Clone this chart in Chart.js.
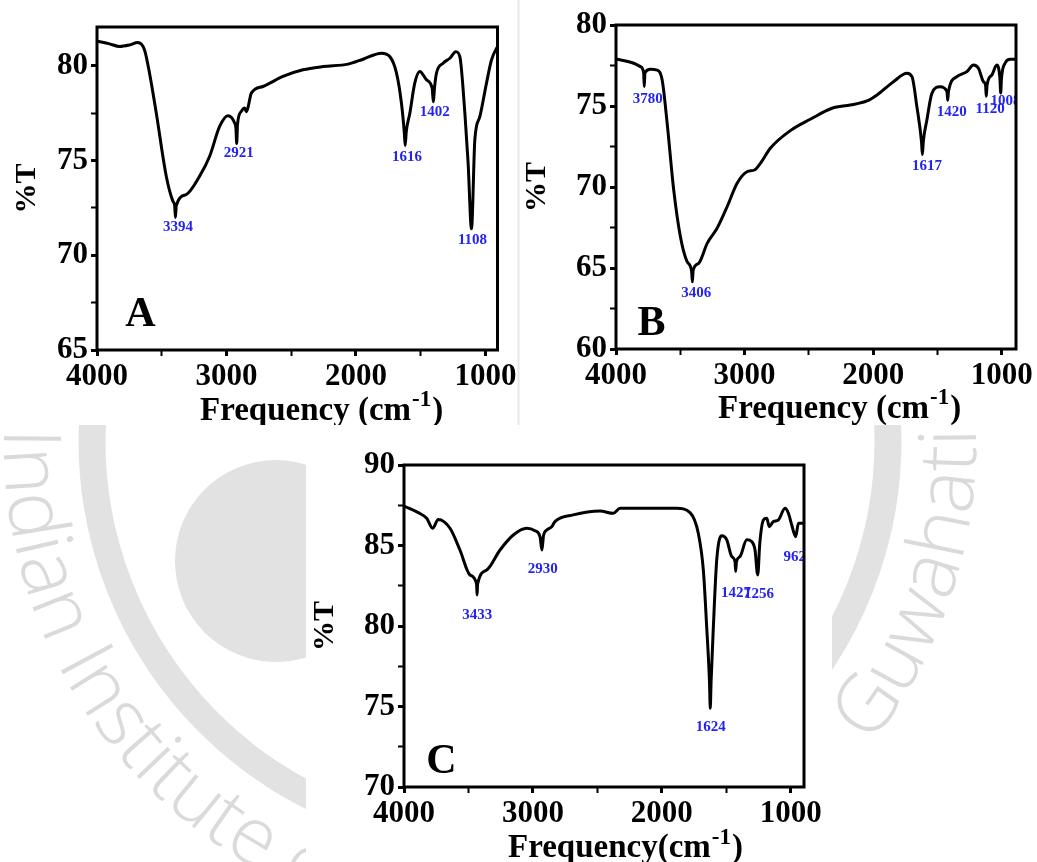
<!DOCTYPE html>
<html>
<head>
<meta charset="utf-8">
<script src="https://cdn.jsdelivr.net/npm/chart.js@4.4.1/dist/chart.umd.min.js"></script>
<style>
  body { margin: 0; background: #fff; }
  #page { position: relative; width: 1037px; height: 862px; overflow: hidden; }
  #page svg, #page canvas { position: absolute; }
</style>
</head>
<body>
<div id="page">
  <!-- faint watermark behind the three pasted panels -->
  <svg width="1037" height="862" style="left:0;top:0">
    <circle cx="490" cy="441" r="398" fill="none" stroke="#e2e2e2" stroke-width="27"/>
    <circle cx="276" cy="561" r="101" fill="#e2e2e2"/>
    <path id="wmArc" d="M 4.2 428.3 A 486 486 0 1 0 975.8 428.3" fill="none"/>
    <g font-family="'Open Sans', Lato, sans-serif" font-size="80" font-weight="300" fill="#dadada">
      <text><textPath href="#wmArc">Indian Institute of Technology</textPath></text>
      <text text-anchor="end"><textPath href="#wmArc" startOffset="100%">Guwahati</textPath></text>
    </g>
    <rect x="0" y="0" width="1037" height="425" fill="#fff"/>
    <line x1="518.5" y1="0" x2="518.5" y2="425" stroke="#e8e8e8" stroke-width="2"/>
    <rect x="306" y="448" width="526" height="414" fill="#fff"/>
  </svg>
  <canvas id="chartA" width="518" height="425" style="left:0;top:0"></canvas>
  <canvas id="chartB" width="517" height="425" style="left:520px;top:0"></canvas>
  <canvas id="chartC" width="540" height="422" style="left:300px;top:440px"></canvas>
</div>
<script>
const FONT = '"Liberation Serif", "Times New Roman", serif';

// wavenumber ticks shared by all panels (labels only on thousands)
const xTicks = [1000, 1500, 2000, 2500, 3000, 3500, 4000];

// Panel A
const yTicksA = [65, 67.5, 70, 72.5, 75, 77.5, 80];
const waveA = [4000, 3903, 3826, 3749, 3685, 3633, 3594, 3542, 3465, 3414,
  3400, 3394, 3388, 3310, 3208, 3130, 3053, 2989, 2937, 2927,
  2921, 2915, 2885, 2860, 2847, 2834, 2808, 2718, 2564, 2409,
  2255, 2061, 1945, 1803, 1739, 1687, 1649, 1627, 1620, 1612,
  1584, 1546, 1507, 1455, 1412, 1402, 1394, 1378, 1327, 1275,
  1229, 1198, 1159, 1134, 1108, 1082, 1043, 992, 953, 914, 907];
const transA = [81.3, 81.16, 81.02, 81.1, 81.23, 80.84, 79.6, 77.5, 74.17, 72.86,
  72.62, 72.0, 72.62, 73.21, 74.17, 75.23, 76.8, 77.37, 76.98, 76.7,
  75.9, 76.9, 77.6, 77.77, 77.58, 77.8, 78.56, 78.91, 79.44, 79.79,
  79.96, 80.09, 80.35, 80.67, 80.49, 79.62, 78.04, 76.5, 75.8, 76.5,
  77.5, 79.09, 79.7, 79.26, 78.83, 78.1, 78.8, 79.62, 80.14, 80.4,
  80.75, 80.49, 77.5, 74.88, 71.4, 76.1, 77.33, 79.09, 80.32, 80.93, 81.0];
const peakTextA = ['3394', '2921', '1616', '1402', '1108'];
const peakWaveA = [3375, 2906, 1605, 1391, 1100];
const peakTransA = [71.5, 75.4, 75.17, 77.54, 70.8];

// Panel B
const yTicksB = [60, 62.5, 65, 67.5, 70, 72.5, 75, 77.5, 80];
const waveB = [4000, 3862, 3810, 3785, 3780, 3775, 3732, 3680, 3641, 3602,
  3551, 3499, 3447, 3412, 3406, 3400, 3357, 3291, 3214, 3136,
  3058, 2981, 2924, 2877, 2800, 2644, 2489, 2320, 2178, 2048,
  1970, 1842, 1737, 1698, 1660, 1624, 1617, 1610, 1582, 1543,
  1479, 1426, 1420, 1414, 1349, 1271, 1220, 1181, 1142, 1126,
  1120, 1114, 1077, 1038, 1014, 1008, 1002, 974, 935, 896, 889];
const transB = [77.9, 77.64, 77.43, 77.05, 76.2, 77.05, 77.27, 77.22, 76.6, 73.93,
  69.81, 66.93, 65.39, 64.8, 64.15, 64.85, 65.29, 66.52, 67.45, 68.78,
  70.23, 70.94, 71.05, 71.46, 72.39, 73.48, 74.18, 74.86, 75.06, 75.31,
  75.68, 76.5, 77.02, 76.81, 74.96, 72.8, 72.0, 72.8, 74.14, 75.78,
  76.19, 75.9, 75.35, 75.9, 76.81, 77.12, 77.53, 77.33, 76.5, 76.3,
  75.6, 76.3, 76.91, 77.53, 76.7, 75.8, 76.7, 77.64, 77.88, 77.88, 77.9];
const peakTextB = ['3780', '3406', '1617', '1420', '1120', '1008'];
const peakWaveB = [3753, 3375, 1582, 1388, 1090, 970];
const peakTransB = [75.41, 63.44, 71.3, 74.65, 74.8, 75.3];

// Panel C
const yTicksC = [70, 72.5, 75, 77.5, 80, 82.5, 85, 87.5, 90];
const waveC = [4000, 3889, 3824, 3778, 3734, 3643, 3566, 3488, 3437, 3433,
  3429, 3358, 3255, 3152, 3048, 2984, 2945, 2930, 2918, 2893,
  2854, 2829, 2687, 2479, 2376, 2324, 2092, 1884, 1781, 1717,
  1678, 1652, 1630, 1624, 1618, 1600, 1574, 1535, 1496, 1458,
  1432, 1427, 1421, 1393, 1341, 1303, 1277, 1256, 1240, 1212,
  1186, 1166, 1135, 1096, 1044, 1018, 992, 962, 940, 928, 897];
const transC = [87.45, 87.04, 86.69, 86.07, 86.62, 86.07, 84.72, 83.17, 82.6, 81.93,
  82.6, 83.48, 84.72, 85.65, 86.07, 85.92, 85.55, 84.72, 85.6, 85.96,
  86.17, 86.48, 86.9, 87.14, 87.0, 87.31, 87.31, 87.31, 87.04, 85.76,
  83.48, 79.96, 76.5, 74.89, 76.5, 79.96, 84.1, 85.6, 85.35, 84.32,
  84.0, 83.4, 84.0, 84.32, 85.35, 85.25, 84.72, 83.17, 85.13, 86.58,
  86.69, 86.17, 86.48, 86.58, 87.31, 87.0, 86.27, 85.55, 86.38, 86.38, 86.38];
const peakTextC = ['3433', '2930', '1624', '1427', '1256', '962'];
const peakWaveC = [3431, 2924, 1621, 1424, 1246, 968];
const peakTransC = [80.68, 83.52, 73.71, 82.03, 82.0, 84.3];

// frame, peak labels, panel letter and the x title with its superscript
const panelDecor = {
  id: 'panelDecor',
  afterDatasetsDraw(chart, args, o) {
    const { ctx, chartArea: a, scales: { x, y } } = chart;
    ctx.save();
    ctx.beginPath();
    ctx.rect(a.left, a.top, a.right - a.left, a.bottom - a.top);
    ctx.clip();
    ctx.fillStyle = '#2424f2';
    ctx.font = 'bold 15px ' + FONT;
    ctx.textAlign = 'center';
    ctx.textBaseline = 'middle';
    o.peakText.forEach((t, i) => {
      ctx.fillText(t, x.getPixelForValue(o.peakWave[i]), y.getPixelForValue(o.peakTrans[i]));
    });
    ctx.fillStyle = '#000';
    ctx.font = 'bold 42px ' + FONT;
    ctx.textBaseline = 'alphabetic';
    ctx.fillText(o.letter, x.getPixelForValue(o.letterAt[0]), y.getPixelForValue(o.letterAt[1]));
    ctx.restore();

    ctx.save();
    ctx.lineWidth = 3;
    ctx.strokeStyle = '#000';
    ctx.strokeRect(a.left, a.top, a.right - a.left, a.bottom - a.top);

    ctx.fillStyle = '#000';
    ctx.textAlign = 'left';
    ctx.textBaseline = 'alphabetic';
    let tx = a.left + o.titleShift;
    const ty = o.titleBase;
    ctx.font = 'bold 33px ' + FONT;
    ctx.fillText(o.titleMain, tx, ty);
    tx += ctx.measureText(o.titleMain).width + 1;
    ctx.font = 'bold 23px ' + FONT;
    ctx.fillText('-1', tx, ty - o.supRaise);
    tx += ctx.measureText('-1').width + 1;
    ctx.font = 'bold 33px ' + FONT;
    ctx.fillText(')', tx, ty);
    ctx.restore();
  }
};

function useTicks(list) {
  return s => { s.ticks = list.map(v => ({ value: v })); };
}

function makePanel(id, waves, trans, yTicks, p) {
  const tickFont = { family: FONT, size: 31, weight: 'bold' };
  return new Chart(document.getElementById(id), {
    type: 'line',
    data: {
      datasets: [{
        data: waves.map((w, i) => ({ x: w, y: trans[i] })),
        borderColor: '#000',
        borderWidth: 3,
        pointRadius: 0,
        cubicInterpolationMode: 'monotone'
      }]
    },
    options: {
      responsive: false,
      animation: false,
      layout: { padding: { left: 0, top: p.padTop, right: p.padRight, bottom: 0 } },
      plugins: {
        legend: { display: false },
        tooltip: { enabled: false },
        panelDecor: p.decor
      },
      scales: {
        x: {
          type: 'linear',
          reverse: true,
          min: p.xMin,
          max: 4000,
          afterBuildTicks: useTicks(xTicks),
          afterFit: s => { s.height = p.xAxisH; },
          border: { display: false },
          grid: {
            drawOnChartArea: false,
            tickLength: 6,
            tickColor: '#000',
            tickWidth: c => (c.tick && c.tick.value % 1000 === 0 ? 3 : 2)
          },
          ticks: {
            autoSkip: false,
            maxRotation: 0,
            padding: 2,
            color: '#000',
            font: tickFont,
            callback: v => (v % 1000 === 0 ? String(v) : '')
          }
        },
        y: {
          min: p.yMin,
          max: p.yMax,
          afterBuildTicks: useTicks(yTicks),
          afterFit: s => { s.width = p.yAxisW; },
          border: { display: false },
          grid: {
            drawOnChartArea: false,
            tickLength: 6,
            tickColor: '#000',
            tickWidth: c => (c.tick && c.tick.value % 5 === 0 ? 3 : 2)
          },
          ticks: {
            autoSkip: false,
            padding: 3,
            color: '#000',
            font: tickFont,
            callback: v => (v % 5 === 0 ? String(v) : '')
          },
          title: {
            display: true,
            text: '%T',
            color: '#000',
            font: { family: FONT, size: 30, weight: 'bold', lineHeight: 1 },
            padding: { top: p.yTitlePad, bottom: 0 }
          }
        }
      }
    },
    plugins: [panelDecor]
  });
}

makePanel('chartA', waveA, transA, yTicksA, {
  xMin: 907, yMin: 65, yMax: 82.05,
  padTop: 27, padRight: 20.5, xAxisH: 75, yAxisW: 97, yTitlePad: 12,
  decor: {
    peakText: peakTextA, peakWave: peakWaveA, peakTrans: peakTransA,
    letter: 'A', letterAt: [3664, 66.26],
    titleMain: 'Frequency (cm', titleShift: 103, titleBase: 420, supRaise: 14
  }
});

makePanel('chartB', waveB, transB, yTicksB, {
  xMin: 889, yMin: 60, yMax: 80,
  padTop: 25, padRight: 21, xAxisH: 76, yAxisW: 96, yTitlePad: 2,
  decor: {
    peakText: peakTextB, peakWave: peakWaveB, peakTrans: peakTransB,
    letter: 'B', letterAt: [3724, 60.86],
    titleMain: 'Frequency (cm', titleShift: 102, titleBase: 418, supRaise: 14
  }
});

makePanel('chartC', waveC, transC, yTicksC, {
  xMin: 897, yMin: 70, yMax: 90,
  padTop: 25, padRight: 36, xAxisH: 75, yAxisW: 104, yTitlePad: 10,
  decor: {
    peakText: peakTextC, peakWave: peakWaveC, peakTrans: peakTransC,
    letter: 'C', letterAt: [3709, 70.87],
    titleMain: 'Frequency(cm', titleShift: 104, titleBase: 417, supRaise: 13
  }
});
</script>
</body>
</html>
